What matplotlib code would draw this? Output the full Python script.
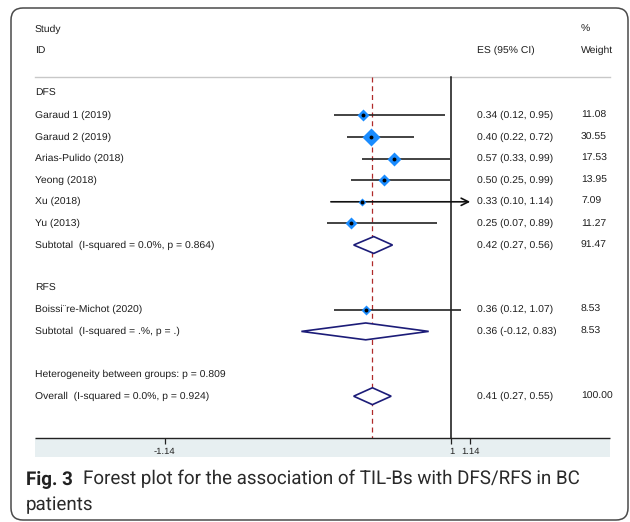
import numpy as np
import matplotlib
matplotlib.use("Agg")
import matplotlib.pyplot as plt
from matplotlib.patches import FancyBboxPatch, Rectangle, Polygon

# ---------------- data ----------------
dfs_studies = ["Garaud 1 (2019)", "Garaud 2 (2019)", "Arias-Pulido (2018)",
               "Yeong (2018)", "Xu (2018)", "Yu (2013)"]
dfs_es = [0.34, 0.40, 0.57, 0.50, 0.33, 0.25]
dfs_lo = [0.12, 0.22, 0.33, 0.25, 0.10, 0.07]
dfs_hi = [0.95, 0.72, 0.99, 0.99, 1.14, 0.89]
dfs_wt = [11.08, 30.55, 17.53, 13.95, 7.09, 11.27]
dfs_sub = [0.42, 0.27, 0.56, 91.47]
dfs_sub_label = "Subtotal  (I-squared = 0.0%, p = 0.864)"

rfs_studies = ["Boissi\u00a8re-Michot (2020)"]
rfs_es = [0.36]
rfs_lo = [0.12]
rfs_hi = [1.07]
rfs_wt = [8.53]
rfs_sub = [0.36, -0.12, 0.83, 8.53]
rfs_sub_label = "Subtotal  (I-squared = .%, p = .)"

het_label = "Heterogeneity between groups: p = 0.809"
overall = [0.41, 0.27, 0.55, 100.00]
overall_label = "Overall  (I-squared = 0.0%, p = 0.924)"

xtick_vals = [-1.14, 1, 1.14]
xtick_labels = ["-1.14", "1", "1.14"]
null_value = 1

caption_bold = "Fig. 3"
caption_line1 = "Forest plot for the association of TIL-Bs with DFS/RFS in BC"
caption_line2 = "patients"

# ---------------- layout ----------------
plt.rcParams["text.hinting"] = "no_hinting"
plt.rcParams["font.family"] = ["Liberation Sans", "DejaVu Sans"]
W, H = 630, 522
fig = plt.figure(figsize=(W / 100, H / 100), dpi=100)

ROW0, STEP = 29.0, 21.6
ax_left_px, ax_right_px = 35, 610
ax_top_px, ax_bot_px = 20, 438
ax = fig.add_axes([ax_left_px / W, 1 - ax_bot_px / H,
                   (ax_right_px - ax_left_px) / W, (ax_bot_px - ax_top_px) / H])
ax.set_zorder(2)
ax.set_xlim(-2.108, 2.183)
ax.set_ylim((ax_bot_px - ROW0) / STEP, (ax_top_px - ROW0) / STEP)
ax.patch.set_visible(False)
for s in ["top", "left", "right"]:
    ax.spines[s].set_visible(False)
ax.spines["bottom"].set_linewidth(1.0)
ax.spines["bottom"].set_color("#222222")
ax.spines["bottom"].set_capstyle("butt")
ax.set_yticks([])
ax.set_xticks(xtick_vals)
ax.set_xticklabels(xtick_labels, fontsize=6.8, color="#222222")
ax.tick_params(axis="x", direction="out", length=4, width=0.9, pad=2.5, color="#222222")

TXT = "#1e1e1e"
FS = 7.5
lab_x = 0.0
es_x = (477 - ax_left_px) / (ax_right_px - ax_left_px)
wt_x = (581 - ax_left_px) / (ax_right_px - ax_left_px)
tr = ax.get_yaxis_transform()


def txt(x, k, s):
    ax.text(x, k, s, transform=tr, fontsize=FS, color=TXT, va="center", ha="left")


def es_str(e, l, h):
    return f"{e:.2f} ({l:.2f}, {h:.2f})"


# header
txt(lab_x, 0, "Study")
txt(lab_x, 1, "ID")
txt(wt_x, 0, "%")
txt(es_x, 1, "ES (95% CI)")
txt(wt_x, 1, "Weight")
sep_k = (77 - ROW0) / STEP
ax.plot([0, 1], [sep_k, sep_k], transform=tr, color="#c8c8c8", lw=1.0, clip_on=False)

bottom_k = (ax_bot_px - ROW0) / STEP
ax.plot([null_value, null_value], [sep_k, bottom_k], color="#111111", lw=1.1)
ax.plot([overall[0], overall[0]], [sep_k, bottom_k], color="#b02a2a", lw=0.9,
        ls=(0, (4, 3)))

BLUE = "#1a8cff"
NAVY = "#1c1c78"
xmax_axis = max(xtick_vals)


def study_row(k, name, e, l, h, w):
    txt(lab_x, k, name)
    if h >= xmax_axis:
        ax.annotate("", xy=(xmax_axis, k), xytext=(l, k),
                    arrowprops=dict(arrowstyle="->", lw=1.2, color="#111111",
                                    shrinkA=0, shrinkB=0, mutation_scale=13))
    else:
        ax.plot([l, h], [k, k], color="#222222", lw=1.2, solid_capstyle="butt")
    ax.plot([e], [k], marker="D", ms=1.72 * np.sqrt(w), color=BLUE, mec="none", zorder=3)
    ax.plot([e], [k], marker="o", ms=2.8, color="black", mec="none", zorder=4)
    txt(es_x, k, es_str(e, l, h))
    txt(wt_x, k, f"{w:.2f}")


def diamond(k, label, vals):
    e, l, h, w = vals
    txt(lab_x, k, label)
    d = 0.39
    ax.add_patch(Polygon([[l, k], [e, k - d], [h, k], [e, k + d]], closed=True,
                         facecolor="white", edgecolor=NAVY, lw=1.2, zorder=3))
    txt(es_x, k, es_str(e, l, h))
    txt(wt_x, k, f"{w:.2f}")


txt(lab_x, 3, "DFS")
for i, name in enumerate(dfs_studies):
    study_row(4 + i, name, dfs_es[i], dfs_lo[i], dfs_hi[i], dfs_wt[i])
diamond(10, dfs_sub_label, dfs_sub)

txt(lab_x, 12, "RFS")
for i, name in enumerate(rfs_studies):
    study_row(13 + i, name, rfs_es[i], rfs_lo[i], rfs_hi[i], rfs_wt[i])
diamond(14, rfs_sub_label, rfs_sub)

txt(lab_x, 16, het_label)
diamond(17, overall_label, overall)

# axis band (behind the axes)
fig.patches.append(Rectangle((ax_left_px / W, 1 - 457 / H),
                             (ax_right_px - ax_left_px) / W, (457 - ax_bot_px) / H,
                             transform=fig.transFigure, facecolor="#e7eff1",
                             edgecolor="none", zorder=-1))

# frame
fig.patches.append(FancyBboxPatch((11, 2), 617, 512,
                                  boxstyle="round,pad=0,rounding_size=12",
                                  transform=None, facecolor="none",
                                  edgecolor="#4a4a4a", lw=1.1, zorder=5))

# caption
cap_font = ["Roboto", "DejaVu Sans"]
CFS = 13.5
t1 = fig.text(26 / W, 1 - 484 / H, caption_bold, fontsize=CFS, fontweight="bold",
              family=cap_font, color="#222222", va="baseline", ha="left")
fig.canvas.draw()
bb = t1.get_window_extent(renderer=fig.canvas.get_renderer())
x2 = bb.x1 + 10
fig.text(x2 / W, 1 - 484 / H, caption_line1, fontsize=CFS, family=cap_font,
         color="#2a2a2a", va="baseline", ha="left")
fig.text(26 / W, 1 - 510 / H, caption_line2, fontsize=CFS, family=cap_font,
         color="#2a2a2a", va="baseline", ha="left")

fig.savefig("out.png", dpi=100)
